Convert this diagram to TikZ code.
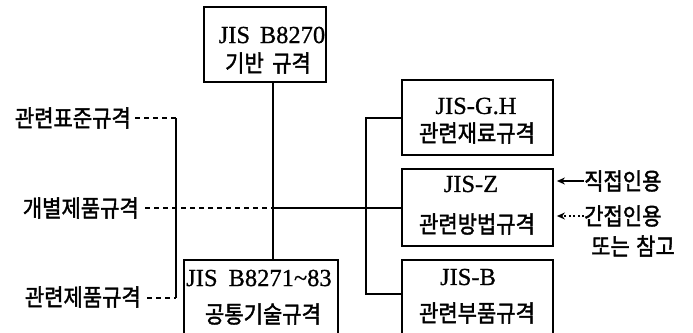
\documentclass[tikz,border=0pt]{standalone}
\usepackage{fontspec}
\usepackage{graphicx}
\setmainfont{Liberation Serif}[FakeBold=0.8]
\newfontfamily\kr{Noto Sans CJK KR}[FakeBold=1.8]
\newcommand{\K}[1]{\scalebox{1}[1.12]{\kr #1}}
\usetikzlibrary{arrows.meta}
\begin{document}
\begin{tikzpicture}[x=1pt,y=-1pt,
  box/.style={draw,line width=1.8pt,inner sep=0pt,minimum width=151pt},
  lat/.style={inner sep=0pt,font=\fontsize{24.5}{28}\selectfont},
  kor/.style={inner sep=0pt,font=\fontsize{21}{24}\selectfont},
  conn/.style={line width=1.5pt},
  dsh/.style={line width=1.5pt,dash pattern=on 5pt off 4pt},
  dot/.style={line width=1.4pt,dash pattern=on 2pt off 2.5pt},
  tip/.style={-{Stealth[length=8pt,width=7pt]}}]
\useasboundingbox (0,0) rectangle (693,332);
% boxes
\node[box,minimum width=122pt,minimum height=75pt] (top) at (265,44.5) {};
\node[box,minimum height=75pt] (gh) at (477.5,117.5) {};
\node[box,minimum height=77pt] (z) at (477.5,207.5) {};
\node[box,minimum height=86pt] (b) at (477.5,303) {};
\node[box,minimum width=154pt,minimum height=86pt] (com) at (261,303) {};
% box texts
\node[lat] (t1a) at (272,35) {JIS\hspace{0.15em} B8270};
\node[kor] (t1b) at (268,63) {\K{기반\hspace{0.4em}규격}};
\node[lat] (t2a) at (476,106) {JIS-G.H};
\node[kor] (t2b) at (477,133) {\K{관련재료규격}};
\node[lat] (t3a) at (471,184) {JIS-Z};
\node[kor] (t3b) at (477,224) {\K{관련방법규격}};
\node[lat] (t4a) at (468,277) {JIS-B};
\node[kor] (t4b) at (477,313) {\K{관련부품규격}};
\node[lat] (t5a) at (259,278) {JIS\hspace{0.2em} B8271\char"007E 83};
\node[kor] (t5b) at (263,314) {\K{공통기술규격}};
% left labels
\node[kor,anchor=east] (l1) at (131,118) {\K{관련표준규격}};
\node[kor,anchor=east] (l2) at (139,208) {\K{개별제품규격}};
\node[kor,anchor=east] (l3) at (141,297) {\K{관련제품규격}};
% right labels
\node[kor,anchor=west] (r1) at (584,181) {\K{직접인용}};
\node[kor,anchor=west] (r2) at (584,216) {\K{간접인용}};
\node[kor] (r3) at (633,246) {\K{또는\hspace{0.3em}참고}};
% coordinates
\coordinate (lv1) at (176,118);
\coordinate (lv2) at (176,298);
\coordinate (mid) at (273,208);
\coordinate (rv1) at (366,118);
\coordinate (rv2) at (366,208);
\coordinate (rv3) at (366,294);
% connectors
\draw[conn] (top.south -| mid) -- (com.north -| mid);
\draw[dsh] ([xshift=4pt]l1.east |- lv1) -- (lv1);
\draw[conn] (lv1) -- (lv2);
\draw[dsh] ([xshift=6pt]l3.east |- lv2) -- (lv2);
\draw[dsh] ([xshift=6pt]l2.east |- mid) -- (mid);
\draw[conn] (mid) -- (rv2) -- (z.west |- rv2);
\draw[conn] (gh.west |- rv1) -- (rv1) -- (rv3) -- (b.west |- rv3);
\draw[conn,tip] (r1.west) -- ([xshift=3pt]z.east |- r1.west);
\draw[dot,tip] (r2.west) -- ([xshift=3pt]z.east |- r2.west);
\end{tikzpicture}
\end{document}
